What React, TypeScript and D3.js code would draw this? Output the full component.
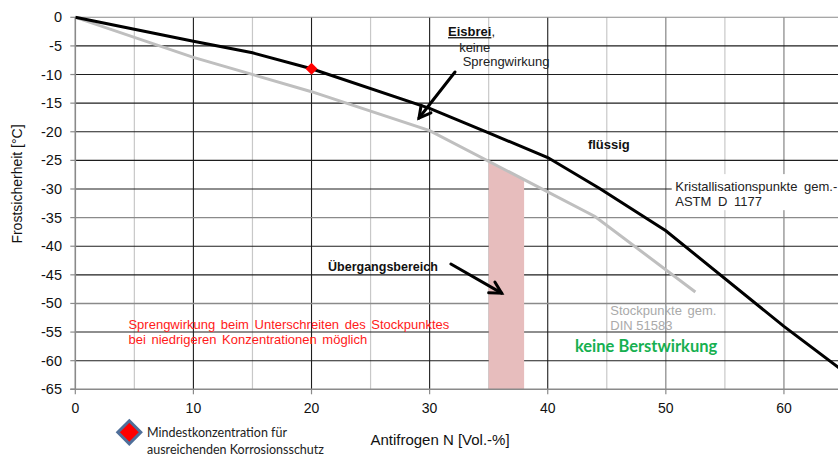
import React from "react";
import * as d3 from "d3";

const W = 838;
const H = 457;

// Kristallisationspunkte gem. ASTM D 1177 (black)
const crystX = [0, 5, 10, 15, 20, 30, 35, 40, 44.4, 50, 60, 65];
const crystY = [0, -2.1, -4.2, -6.2, -9, -15.9, -20.2, -24.5, -29.9, -37.3, -54, -61.8];
// Stockpunkte gem. DIN 51583 (grey)
const pourX = [0, 10, 20, 30, 44, 52.5];
const pourY = [0, -7, -13, -19.8, -34.8, -48];
// Mindestkonzentration marker
const minConc = [20, -9];
// Übergangsbereich band
const bandX = [35, 38];

const xTicks = [0, 10, 20, 30, 40, 50, 60];
const yTicks = [0, -5, -10, -15, -20, -25, -30, -35, -40, -45, -50, -55, -60, -65];
const xMinor = [5, 15, 25, 35, 45, 55, 65];

export default function App() {
  const x = d3.scaleLinear().domain([0, 65]).range([75.3, 843]);
  const y = d3.scaleLinear().domain([0, -65]).range([17.3, 389.3]);

  const crystPath = d3.line<[number, number]>().x((d) => x(d[0])).y((d) => y(d[1]))(
    crystX.map((v, i) => [v, crystY[i]] as [number, number])
  );
  const pourPts = pourX.map((v, i) => [v, pourY[i]] as [number, number]);
  const pourPath = d3.line<[number, number]>().x((d) => x(d[0])).y((d) => y(d[1]))(pourPts);

  const pourAt = (xv: number) => d3.scaleLinear().domain(pourX).range(pourY)(xv);

  const bandPath =
    `M${x(bandX[0])},${y(pourAt(bandX[0]))}` +
    `L${x(bandX[1])},${y(pourAt(bandX[1]))}` +
    `L${x(bandX[1])},${y(-65)}L${x(bandX[0])},${y(-65)}Z`;

  const hColor = (t: number) => (t === 0 || t === -35 || t === -50 ? "#8a8a8a" : "#1e1e1e");
  const vColor = (t: number) => (t >= 50 ? "#7a7a7a" : "#1e1e1e");

  const arrow = (x1: number, y1: number, x2: number, y2: number, key: string) => {
    const px1 = x(x1), py1 = y(y1), px2 = x(x2), py2 = y(y2);
    const ang = Math.atan2(py2 - py1, px2 - px1);
    const L = 13, a = 0.5;
    const h1 = [px2 - L * Math.cos(ang - a), py2 - L * Math.sin(ang - a)];
    const h2 = [px2 - L * Math.cos(ang + a), py2 - L * Math.sin(ang + a)];
    return (
      <g key={key} stroke="#000" strokeWidth={3} fill="none" strokeLinecap="round" strokeLinejoin="miter">
        <line x1={px1} y1={py1} x2={px2} y2={py2} />
        <polyline points={`${h1[0]},${h1[1]} ${px2},${py2} ${h2[0]},${h2[1]}`} />
      </g>
    );
  };

  const diamond = (cx: number, cy: number, r: number) =>
    `M${cx},${cy - r}L${cx + r},${cy}L${cx},${cy + r}L${cx - r},${cy}Z`;

  const arial = "Arial, 'Liberation Sans', sans-serif";
  const calibri = "Lato, 'Open Sans', sans-serif";

  return (
    <svg
      width={W}
      height={H}
      style={{ position: "fixed", left: 0, top: 0, background: "#fff" }}
      fontFamily={arial}
    >
      <defs>
        <clipPath id="plot">
          <rect x={x(0)} y={y(0) - 2} width={W - x(0)} height={y(-65) - y(0) + 4} />
        </clipPath>
      </defs>
      <rect width={W} height={H} fill="#fff" />

      {xMinor.map((t) => (
        <line key={"vm" + t} x1={x(t)} x2={x(t)} y1={y(0)} y2={y(-65)} stroke="#c8c8c8" strokeWidth={1.2} />
      ))}
      {xTicks.slice(1).map((t) => (
        <line key={"v" + t} x1={x(t)} x2={x(t)} y1={y(0)} y2={y(-65)} stroke={vColor(t)} strokeWidth={1.1} />
      ))}
      {yTicks.slice(0, -1).map((t) => (
        <line key={"h" + t} x1={x(0)} x2={W} y1={y(t)} y2={y(t)} stroke={hColor(t)} strokeWidth={t === -50 ? 1.6 : 1.1} />
      ))}

      <path d={bandPath} fill="#e7bdbd" />

      <rect x={x(50.5)} y={y(-27.4)} width={W - x(50.5)} height={y(-33.7) - y(-27.4)} fill="#fff" />

      <line x1={x(0)} x2={x(0)} y1={y(0)} y2={y(-65)} stroke="#8a8a8a" strokeWidth={1.6} />
      <line x1={x(0) - 5} x2={W} y1={y(-65)} y2={y(-65)} stroke="#8a8a8a" strokeWidth={1.6} />
      {yTicks.map((t) => (
        <line key={"yt" + t} x1={x(0) - 5} x2={x(0)} y1={y(t)} y2={y(t)} stroke="#8a8a8a" strokeWidth={1.2} />
      ))}
      {xTicks.map((t) => (
        <line key={"xt" + t} x1={x(t)} x2={x(t)} y1={y(-65)} y2={y(-65) + 5} stroke="#8a8a8a" strokeWidth={1.2} />
      ))}

      <g clipPath="url(#plot)">
        <path d={pourPath || ""} fill="none" stroke="#bfbfbf" strokeWidth={3} />
        <path d={crystPath || ""} fill="none" stroke="#000" strokeWidth={3} />
      </g>
      <path d={diamond(x(minConc[0]), y(minConc[1]), 6)} fill="#ff0000" />

      {yTicks.map((t) => (
        <text key={"yl" + t} x={62} y={y(t) + 5} textAnchor="end" fontSize={14.5} fill="#111">
          {t}
        </text>
      ))}
      {xTicks.map((t) => (
        <text key={"xl" + t} x={x(t)} y={413} textAnchor="middle" fontSize={14} fill="#111">
          {t}
        </text>
      ))}

      <text transform={`translate(22,184) rotate(-90)`} textAnchor="middle" fontSize={14} fill="#111">
        Frostsicherheit [°C]
      </text>
      <text x={440} y={445} textAnchor="middle" fontSize={15} fill="#111">
        Antifrogen N [Vol.-%]
      </text>

      <text x={x(31.56)} y={y(-2.5) + 4.5} fontSize={13} fill="#111">
        <tspan fontWeight="bold" textDecoration="underline">Eisbrei</tspan>,
      </text>
      <text x={x(32.5)} y={y(-5.2) + 4.5} fontSize={13} fill="#222">keine</text>
      <text x={x(32.8)} y={y(-7.8) + 4.5} fontSize={13} fill="#222">Sprengwirkung</text>
      {arrow(32.15, -9.56, 29.1, -17.6, "a1")}

      <text x={x(43.4)} y={y(-22.3) + 4.5} fontSize={13} fontWeight="bold" fill="#111">flüssig</text>

      <text x={x(50.8)} y={y(-29.6) + 4.5} fontSize={13} fill="#222" wordSpacing={3}>
        Kristallisationspunkte gem.-
      </text>
      <text x={x(50.8)} y={y(-32.2) + 4.5} fontSize={13} fill="#222" wordSpacing={3}>
        ASTM D 1177
      </text>

      <text x={x(21.4)} y={y(-43.6) + 4.5} fontSize={12.5} fontWeight="bold" fill="#111">
        Übergangsbereich
      </text>
      {arrow(31.8, -43.1, 36.1, -48.2, "a2")}

      <text x={x(4.5)} y={y(-53.6) + 4.5} fontSize={13} fill="#ff1a1a" wordSpacing={2}>
        Sprengwirkung beim Unterschreiten des Stockpunktes
      </text>
      <text x={x(4.5)} y={y(-56.3) + 4.5} fontSize={13} fill="#ff1a1a" wordSpacing={2}>
        bei niedrigeren Konzentrationen möglich
      </text>

      <text x={x(45.3)} y={y(-51.3) + 4.5} fontSize={13} fill="#aaaaaa" wordSpacing={2}>
        Stockpunkte gem.
      </text>
      <text x={x(45.3)} y={y(-53.8) + 4.5} fontSize={13} fill="#aaaaaa">
        DIN 51583
      </text>

      <text x={x(42.3)} y={y(-57.4) + 6} fontSize={16.5} fontWeight="bold" fill="#16b050" fontFamily={calibri}>
        keine Berstwirkung
      </text>

      <path d={diamond(129.3, 432.3, 11.5)} fill="#ff0000" stroke="#4f6f9a" strokeWidth={3} />
      <text x={147} y={437} fontSize={12.5} fill="#222" fontFamily={calibri}>
        Mindestkonzentration für
      </text>
      <text x={147} y={454} fontSize={12.5} fill="#222" fontFamily={calibri}>
        ausreichenden Korrosionsschutz
      </text>
    </svg>
  );
}
